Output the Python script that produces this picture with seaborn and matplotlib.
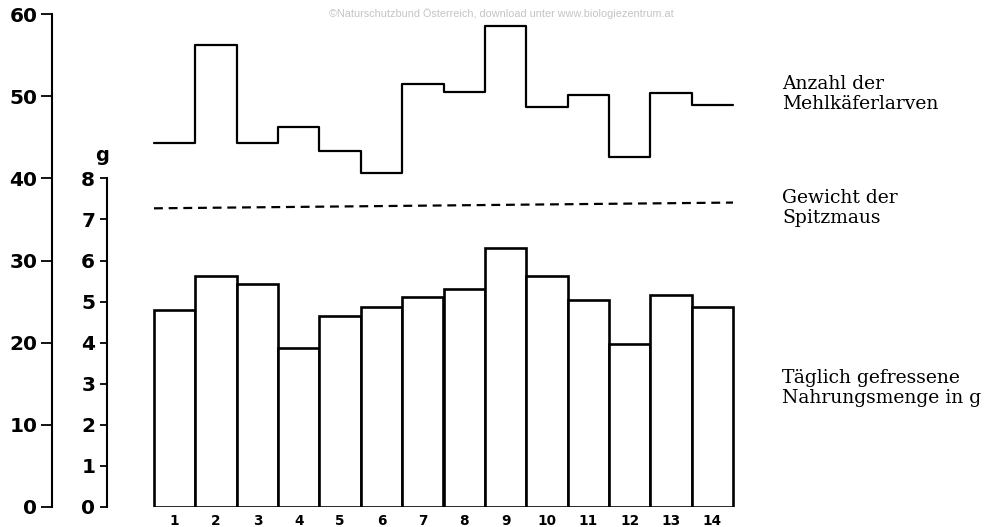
import numpy as np
import pandas as pd
import matplotlib
matplotlib.use("Agg")
import matplotlib.pyplot as plt
import seaborn as sns

# ---- data ----
days = [1, 2, 3, 4, 5, 6, 7, 8, 9, 10, 11, 12, 13, 14]
larvae = [44.3, 56.2, 44.3, 46.2, 43.3, 40.7, 51.5, 50.5, 58.6, 48.7, 50.1, 42.6, 50.4, 48.9]
food_g = [4.80, 5.63, 5.43, 3.86, 4.64, 4.86, 5.10, 5.31, 6.30, 5.63, 5.03, 3.96, 5.15, 4.87]
weight_days = [0.5, 14.5]          # start of day 1, end of day 14
weight_g = [7.27, 7.41]
larvae_ticks = [0, 10, 20, 30, 40, 50, 60]
gram_ticks = [0, 1, 2, 3, 4, 5, 6, 7, 8]
labels_right = ["Anzahl der\nMehlkäferlarven", "Gewicht der\nSpitzmaus",
                "Täglich gefressene\nNahrungsmenge in g"]
watermark = "©Naturschutzbund Österreich, download unter www.biologiezentrum.at"

sns.set_theme(style="white")
plt.rcParams["font.family"] = ["DejaVu Sans"]
plt.rcParams["text.color"] = "black"

W, H = 995, 527
fig = plt.figure(figsize=(W / 100, H / 100), dpi=100)
ax_l, ax_r, ax_b, ax_t = 52, 760, 507, 14
ax = fig.add_axes([ax_l / W, (H - ax_b) / H, (ax_r - ax_l) / W, (ax_b - ax_t) / H])

# step line (larvae), edges at day boundaries
step_x = [d - 0.5 for d in days] + [days[-1] + 0.5]
step_y = larvae + [larvae[-1]]
sns.lineplot(x=step_x, y=step_y, drawstyle="steps-post", color="black",
             lw=1.6, sort=False, ax=ax)

ax2 = ax.twinx()
sns.barplot(x=days, y=food_g, native_scale=True, width=1.0, color="white",
            edgecolor="black", linewidth=1.9, errorbar=None, ax=ax2)
for p in ax2.patches:
    p.set_facecolor("white")
sns.lineplot(x=weight_days, y=weight_g, color="black", lw=1.6,
             linestyle=(0, (4, 2.6)), ax=ax2)

# scales
px_per_unit = (733 - 154) / 14.0
x_left = 0.5 - (154 - ax_l) / px_per_unit
x_right = 14.5 + (ax_r - 733) / px_per_unit
ax.set_xlim(x_left, x_right)
ax2.set_xlim(x_left, x_right)
ax.set_ylim(0, 60)
ax2.set_ylim(0, 12)

# outer axis (larvae)
for s in ["top", "right", "bottom"]:
    ax.spines[s].set_visible(False)
ax.spines["left"].set_linewidth(1.5)
ax.spines["left"].set_color("black")
ax.spines["left"].set_bounds(0, 60)
ax.set_yticks(larvae_ticks)
ax.set_yticklabels([str(t) for t in larvae_ticks])
ax.tick_params(axis="y", direction="out", length=8, width=1.3, pad=2.5,
               labelsize=14.5, colors="black", left=True)
for t in ax.get_yticklabels():
    t.set_fontweight("bold")
ax.set_xticks(days)
ax.set_xticklabels([str(d) for d in days])
ax.tick_params(axis="x", length=0, pad=5, labelsize=9.8, colors="black")
for t in ax.get_xticklabels():
    t.set_fontweight("bold")
ax.set_ylabel("")
ax.set_xlabel("")

# inner axis (grams)
ax2.patch.set_visible(False)
for s in ["top", "right", "bottom"]:
    ax2.spines[s].set_visible(False)
ax2.spines["left"].set_visible(True)
ax2.spines["left"].set_position(("axes", (107 - ax_l) / (ax_r - ax_l)))
ax2.spines["left"].set_bounds(0, 8)
ax2.spines["left"].set_linewidth(1.5)
ax2.spines["left"].set_color("black")
ax2.yaxis.set_ticks_position("left")
ax2.yaxis.set_label_position("left")
ax2.set_yticks(gram_ticks)
ax2.set_yticklabels([str(t) for t in gram_ticks])
ax2.tick_params(axis="y", direction="out", length=5, width=1.3, pad=3.5,
                labelsize=14.5, colors="black", left=True, right=False)
for t in ax2.get_yticklabels():
    t.set_fontweight("bold")
ax2.set_ylabel("")
ax2.set_xlabel("")
ax2.tick_params(axis="x", length=0, labelbottom=False)
ax2.grid(False)
ax.grid(False)

fig.text(102 / W, 1 - 155 / H, "g", ha="center", va="center",
         fontsize=14, fontweight="bold", color="black")

# right-hand labels
for lab, yc in zip(labels_right, [94, 208, 388]):
    fig.text(782 / W, 1 - yc / H, lab, ha="left", va="center",
             family="DejaVu Serif", fontsize=13.5, linespacing=1.15, color="black")

fig.text(501 / W, 1 - 14 / H, watermark, ha="center", va="center",
         family="Liberation Sans", fontsize=7.8, color="#c4c4c4")

fig.savefig("out.png", dpi=100, facecolor="white")
